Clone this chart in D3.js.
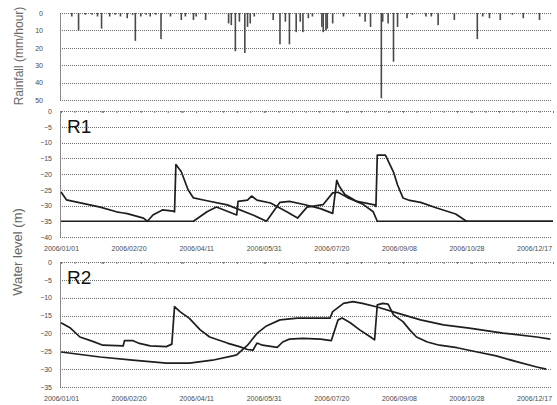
<!DOCTYPE html>
<html>
  <head>
    <meta charset="utf-8">
    <title>Rainfall and water level</title>
    <script type="text/javascript" src="https://d3js.org/d3.v7.min.js"></script>
    <style>
      body { margin: 0; background: #fff; }
      text { font-family: Arial, "Liberation Sans", sans-serif; }
    </style>
  </head>
  <body>
    <script type="text/javascript">
        // days counted from 2006/01/01
        var rainDay = [8, 13, 18, 23, 27, 30, 36, 40, 44, 49, 53, 55, 59, 63, 66, 70, 74, 81, 89, 92, 98, 100, 107,
            124, 126, 129, 132, 136, 138, 140, 143, 157, 162, 166, 169, 174, 177, 179, 183, 186, 193, 194, 196, 197,
            201, 209, 221, 225, 229, 237, 238, 242, 246, 249, 256, 260, 270, 274, 279, 291, 308, 312, 317, 325, 334, 342, 354]
        var rainVal = [2, 10, 1, 1, 2, 9, 2, 1, 2, 3, 1, 16, 2, 1, 2, 1, 15, 2, 4, 2, 4, 2, 4,
            6, 7, 22, 5, 23, 8, 6, 2, 4, 18, 5, 18, 11, 5, 11, 3, 2, 8, 11, 10, 9,
            6, 2, 2, 5, 8, 49, 5, 6, 28, 8, 3, 1, 2, 2, 7, 4, 15, 2, 3, 4, 1, 3, 4]

        var r1aDay = [0, 4, 29, 41, 45, 49, 61, 64, 68, 75, 83, 84, 85, 89, 94, 98, 108, 123, 142, 152, 162, 169, 179,
            192, 201, 204, 206, 210, 219, 232, 233, 234, 240, 246, 249, 253, 258, 266, 278, 292, 300, 364]
        var r1aVal = [-25.7, -28.2, -30.5, -32, -32.3, -32.6, -34, -35, -33, -31.4, -31.8, -32, -17, -19.3, -25, -27.6,
            -28.5, -29.8, -33, -35, -29, -28.7, -29.6, -31, -32.5, -22, -24, -26.5, -28.7, -29.8, -30.3, -14, -14,
            -19.4, -23.5, -27.6, -28.4, -29, -30.8, -32.7, -35, -35]
        var r1bDay = [0, 98, 108, 115, 130, 131, 138, 141, 145, 155, 167, 175, 182, 194, 201, 205, 212, 223, 231, 234, 364]
        var r1bVal = [-35, -35, -32, -30.5, -33, -28.7, -28.3, -27, -28.3, -29.2, -32, -34, -30.5, -29.7, -26, -25.8,
            -27.5, -29.5, -32, -35, -35]

        var r2aDay = [0, 7, 14, 24, 31, 46, 47, 53, 58, 66, 78, 82, 84, 88, 95, 103, 110, 123, 132, 138, 142, 145, 149,
            160, 164, 169, 179, 192, 200, 205, 208, 214, 221, 229, 232, 234, 238, 242, 246, 253, 258, 263, 271, 280,
            293, 308, 322, 337, 352, 359]
        var r2aVal = [-17, -18.5, -21, -22.3, -23.3, -23.5, -22, -22, -22.8, -23.5, -23.7, -23, -12.5, -13.9, -15.8, -19,
            -21, -22.7, -23.7, -24.5, -24.7, -22.7, -23.3, -23.9, -22.4, -21.6, -21.4, -21.6, -22, -16.2, -15.7, -17,
            -19, -21, -21.8, -12, -11.6, -11.8, -14.8, -16.7, -19, -21, -22.4, -23.3, -24, -25.2, -26.3, -27.9, -29.4, -30]
        var r2bDay = [0, 29, 53, 78, 95, 112, 127, 130, 138, 145, 152, 162, 175, 199, 201, 209, 216, 223, 234, 249, 266,
            283, 302, 327, 352, 362]
        var r2bVal = [-25.2, -26.6, -27.5, -28.3, -28.3, -27.5, -26.3, -26, -23.3, -20, -17.9, -16.2, -15.7, -15.7, -13.9,
            -11.6, -11.1, -11.6, -12.6, -14.3, -16.2, -17.6, -18.5, -19.9, -21, -21.6]

        var rainTicks = [0, 10, 20, 30, 40, 50]
        var r1Ticks = [0, -5, -10, -15, -20, -25, -30, -35, -40]
        var r2Ticks = [0, -5, -10, -15, -20, -25, -30, -35]

        var start = new Date(2006, 0, 1)
        function day(d) { return d3.timeDay.offset(start, d) }

        var width = 557, height = 405
        var left = 60, right = 552

        var svg = d3.select("body").append("svg")
            .attr("width", width)
            .attr("height", height)
            .style("background", "#fff")

        var x = d3.scaleTime()
            .domain([start, new Date(2006, 11, 31)])
            .range([61, 553])

        var gridColor = "#6e6e6e"
        var lineColor = "#1e1e1e"

        function grid(y, ticks) {
            svg.append("g").selectAll("line")
                .data(ticks)
                .enter()
                .append("line")
                    .attr("x1", left)
                    .attr("x2", right)
                    .attr("y1", function(d){ return Math.round(y(d)) + 0.5 })
                    .attr("y2", function(d){ return Math.round(y(d)) + 0.5 })
                    .attr("stroke", gridColor)
                    .attr("stroke-width", 1)
                    .attr("stroke-dasharray", "1,1")
        }

        function yAxis(y, ticks, labelX) {
            var g = svg.append("g")
                .attr("transform", "translate(" + left + ",0)")
                .call(d3.axisLeft(y).tickValues(ticks).tickSize(0).tickPadding(left - labelX))
            g.select(".domain").attr("stroke", "#8a8a8a")
            g.selectAll("text")
                .attr("font-size", 7)
                .attr("fill", "#4a4a4a")
        }

        // rainfall panel
        var yRain = d3.scaleLinear().domain([0, 50]).range([13, 100])
        grid(yRain, rainTicks)
        yAxis(yRain, rainTicks, 43)

        svg.append("g").selectAll("rect")
            .data(rainDay)
            .enter()
            .append("rect")
                .attr("x", function(d){ return x(day(d)) - 0.8 })
                .attr("y", yRain(0))
                .attr("width", 1.6)
                .attr("height", function(d, i){ return yRain(rainVal[i]) - yRain(0) })
                .attr("fill", "#4a4a4a")

        svg.append("text")
            .attr("transform", "translate(23,56) rotate(-90)")
            .attr("text-anchor", "middle")
            .attr("font-size", 12)
            .attr("fill", "#666")
            .text("Rainfall (mm/hour)")

        // water level panels
        function panel(name, top, bottom, lo, ticks, series) {
            var y = d3.scaleLinear().domain([lo, 0]).range([bottom, top])
            grid(y, ticks)
            yAxis(y, ticks, 52)

            // 10-day marks along the zero line
            var zero = svg.append("g")
                .attr("transform", "translate(0," + y(0) + ")")
                .call(d3.axisBottom(x).ticks(d3.timeDay.every(10)).tickSize(2).tickFormat(""))
            zero.select(".domain").remove()
            zero.selectAll("line").attr("stroke", "#777")

            var dates = svg.append("g")
                .attr("transform", "translate(0," + (bottom + 6) + ")")
                .call(d3.axisBottom(x)
                    .tickValues(d3.range(0, 351, 50).map(day))
                    .tickSize(0)
                    .tickFormat(d3.timeFormat("%Y/%m/%d")))
            dates.select(".domain").remove()
            dates.selectAll("text")
                .attr("font-size", 7)
                .attr("fill", "#4a4a4a")

            var line = d3.line()
                .x(function(d){ return x(day(d[0])) })
                .y(function(d){ return y(d[1]) })

            series.forEach(function(s){
                svg.append("path")
                    .datum(d3.zip(s[0], s[1]))
                    .attr("d", line)
                    .attr("fill", "none")
                    .attr("stroke", lineColor)
                    .attr("stroke-width", 1.7)
                    .attr("stroke-linejoin", "round")
            })

            svg.append("text")
                .attr("x", 67)
                .attr("y", top + 22)
                .attr("font-size", 19)
                .attr("fill", "#111")
                .text(name)
        }

        panel("R1", 111, 237, -40, r1Ticks, [[r1aDay, r1aVal], [r1bDay, r1bVal]])
        panel("R2", 262, 387, -35, r2Ticks, [[r2aDay, r2aVal], [r2bDay, r2bVal]])

        svg.append("text")
            .attr("transform", "translate(22,252) rotate(-90)")
            .attr("text-anchor", "middle")
            .attr("font-size", 13)
            .attr("fill", "#666")
            .text("Water level (m)")
    </script>
  </body>
</html>
